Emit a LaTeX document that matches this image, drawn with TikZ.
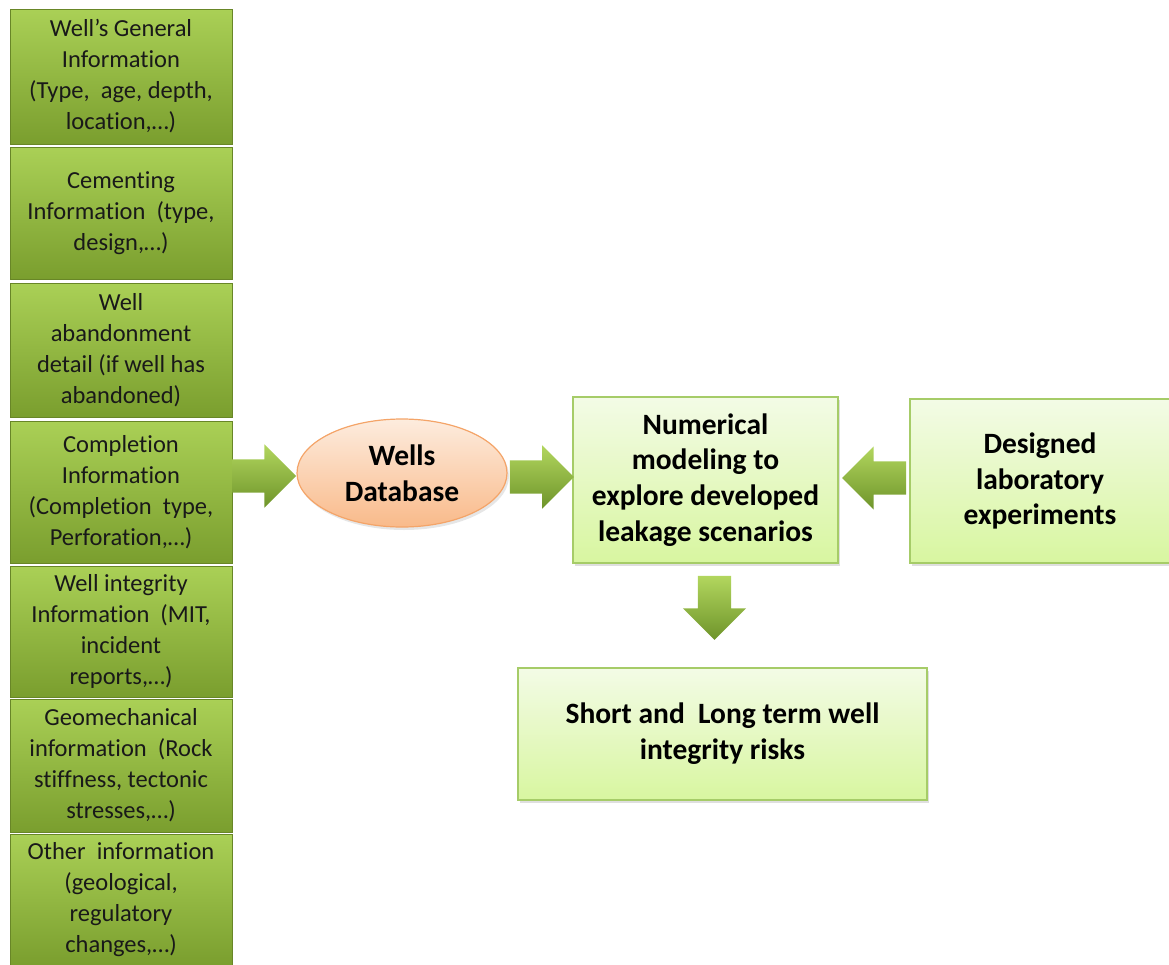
\documentclass[tikz,border=0pt]{standalone}
\usepackage{fontspec}
\setmainfont{Carlito}[Ligatures={NoCommon,NoContextual},Contextuals=NoAlternate]
\usepackage{xcolor}
\usepackage{tikz}
\usetikzlibrary{positioning,shapes.geometric,shapes.arrows,shadows}
\definecolor{LeafTop}{RGB}{170,208,86}
\definecolor{LeafBot}{RGB}{122,158,46}
\definecolor{LimeTop}{RGB}{243,251,230}
\definecolor{LimeBot}{RGB}{216,246,160}
\definecolor{LimeLine}{RGB}{166,204,104}
\definecolor{PeachTop}{RGB}{253,236,222}
\definecolor{PeachBot}{RGB}{249,186,138}
\definecolor{PeachLine}{RGB}{244,164,104}
\definecolor{ArrTop}{RGB}{178,214,94}
\definecolor{ArrBot}{RGB}{110,148,42}

\tikzset{
  infobox/.style={
    draw=LeafBot!85!black,
    line width=0.4pt,
    top color=LeafTop,
    bottom color=LeafBot,
    minimum width=222pt,
    align=center,
    inner sep=2pt,
    text=black!90,
    font=\fontsize{24.5}{31}\selectfont
  },
  stagebox/.style={
    draw=LimeLine,
    line width=1.5pt,
    top color=LimeTop,
    bottom color=LimeBot,
    align=center,
    inner sep=2pt,
    text=black,
    font=\bfseries\fontsize{29.5}{35.8}\selectfont,
    drop shadow={opacity=0.25,shadow xshift=2pt,shadow yshift=-3pt}
  },
  blockarrow/.style={
    single arrow,
    draw=none,
    top color=ArrTop,
    bottom color=ArrBot,
    inner sep=16.5pt,
    minimum height=64pt,
    single arrow head extend=15pt
  }
}

\begin{document}
\begin{tikzpicture}[x=1pt,y=-1pt]
  \useasboundingbox (0,0) rectangle (1169,964);

  % column of input records
  \node[infobox, minimum height=135pt] (info1) at (121,76.5)
    {Well’s General\\Information\\(Type,\ \ age, depth,\\location,…)};
  \node[infobox, minimum height=132pt] (info2) at (121,213)
    {Cementing\\Information\ \ (type,\\design,…)};
  \node[infobox, minimum height=134pt] (info3) at (121,350)
    {Well\\abandonment\\detail (if well has\\abandoned)};
  \node[infobox, minimum height=142pt] (info4) at (121,492)
    {Completion\\Information\\(Completion\ \ type,\\Perforation,…)};
  \node[infobox, minimum height=131pt] (info5) at (121,631.5)
    {Well integrity\\Information\ \ (MIT,\\incident\\reports,…)};
  \node[infobox, minimum height=133pt] (info6) at (121,765.5)
    {Geomechanical\\information\ \ (Rock\\stiffness, tectonic\\stresses,…)};
  \node[infobox, minimum height=132pt] (info7) at (121,900)
    {Other\ \ information\\(geological,\\regulatory\\changes,…)};

  % database and study stages
  \node[
    ellipse,
    draw=PeachLine,
    line width=1.2pt,
    top color=PeachTop,
    bottom color=PeachBot,
    minimum width=210pt,
    minimum height=108pt,
    inner sep=0pt,
    align=center,
    font=\bfseries\fontsize{29.5}{35.8}\selectfont,
    drop shadow={opacity=0.2,shadow xshift=2pt,shadow yshift=-3pt}
  ] (db) at (402,473) {Wells\\Database};

  \node[stagebox, minimum width=265pt, minimum height=166pt] (num) at (705.5,480)
    {Numerical\\modeling to\\explore developed\\leakage scenarios};
  \node[stagebox, minimum width=260pt, minimum height=164pt] (lab) at (1040,481)
    {Designed\\laboratory\\experiments};
  \node[stagebox, minimum width=409pt, minimum height=132pt] (risk) at (722.5,734)
    {Short and\ \ Long term well\\integrity risks};

  % block arrows
  \node[blockarrow, anchor=tip] (a1) at ([yshift=-3pt]db.west) {};
  \node[blockarrow, anchor=tail] (a2) at ([xshift=2pt,yshift=-4pt]db.east) {};
  \node[blockarrow, shape border rotate=180, anchor=tip] (a3) at ([xshift=3pt,yshift=2pt]num.east) {};
  \node[blockarrow, shape border rotate=270, anchor=tail] (a4) at ([xshift=9pt,yshift=-12pt]num.south) {};
\end{tikzpicture}
\end{document}
